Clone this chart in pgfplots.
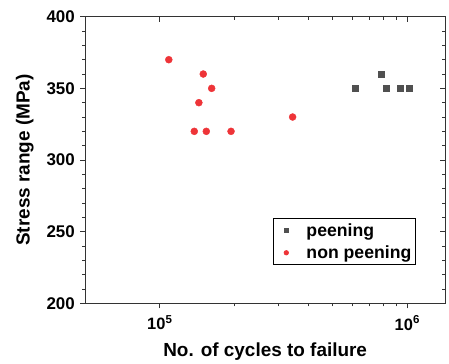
\documentclass[border=0pt]{standalone}
\usepackage{fontspec}
\setmainfont{Liberation Sans}
\usepackage{pgfplots}
\pgfplotsset{compat=1.18}
\definecolor{myred}{RGB}{238,52,56}
\definecolor{mygray}{RGB}{80,80,80}
\begin{document}
\begin{tikzpicture}
\useasboundingbox (-85.3bp,-60.7bp) rectangle (363.7bp,303.3bp);
\begin{axis}[at={(0,0)}, anchor=south west,
  scale only axis, width=359.7bp, height=286.6bp,
  xmode=log, xmin=5e4, xmax=1.42e6,
  ymin=200, ymax=400,
  ytick={200,250,300,350,400},
  minor y tick num=4,
  xtick={1e5,1e6},
  major tick length=5bp, minor tick length=3bp,
  axis line style={line width=0.8bp, black!80},
  every tick/.style={line width=0.7bp, black!80},
  /pgf/number format/assume math mode=true,
  tick align=outside, xtick pos=bottom, ytick pos=left,
  xticklabels={10\textsuperscript{5}, 10\textsuperscript{6}},
  yticklabel style={font=\fontsize{17}{20}\selectfont\bfseries, xshift=-2bp},
  xticklabel style={font=\fontsize{16.5}{20}\selectfont\bfseries, yshift=-4bp},
  xlabel={No. of cycles to failure},
  ylabel={Stress range (MPa)},
  label style={font=\fontsize{19}{22}\selectfont\bfseries},
  xlabel style={at={(axis description cs:0.5,-0.169)}, anchor=center},
  ylabel style={at={(axis description cs:-0.168,0.5)}, anchor=center},
  legend style={at={(axis description cs:0.9185,0.1326)}, anchor=south east,
    draw=black, line width=0.8bp, font=\fontsize{17.7}{20}\selectfont\bfseries,
    row sep=4bp, inner xsep=2bp, inner ysep=3bp},
  legend cell align=left,
  legend image code/.code={\path (0bp,0bp); \draw[#1, mark size=2.2bp] plot coordinates {(11bp,0bp)};},
]
\addplot[only marks, mark=square*, mark size=3bp, mygray, mark options={draw=mygray, fill=mygray}]
coordinates {(6.16e5,350) (7.85e5,360) (8.18e5,350) (9.34e5,350) (1.019e6,350)};
\addlegendentry{\hspace{16bp}peening}
\addplot[only marks, mark=*, mark size=3.5bp, myred, mark options={draw=myred, fill=myred}]
coordinates {(1.087e5,370) (1.498e5,360) (1.62e5,350) (1.438e5,340) (1.378e5,320) (1.541e5,320) (1.94e5,320) (3.44e5,330)};
\addlegendentry{\hspace{16bp}non peening}
\end{axis}
\begin{axis}[at={(0,0)}, anchor=south west,
  scale only axis, width=359.7bp, height=286.6bp,
  xmode=log, xmin=5e4, xmax=1.42e6,
  ymin=200, ymax=400,
  ytick={200,250,300,350,400},
  minor y tick num=4,
  xtick={1e5,1e6},
  major tick length=5bp, minor tick length=3bp,
  axis line style={line width=0.8bp, black!80},
  every tick/.style={line width=0.7bp, black!80},
  tick align=inside, xtick pos=top, ytick pos=right,
  xticklabels={}, yticklabels={},
]
\end{axis}
\end{tikzpicture}
\end{document}
